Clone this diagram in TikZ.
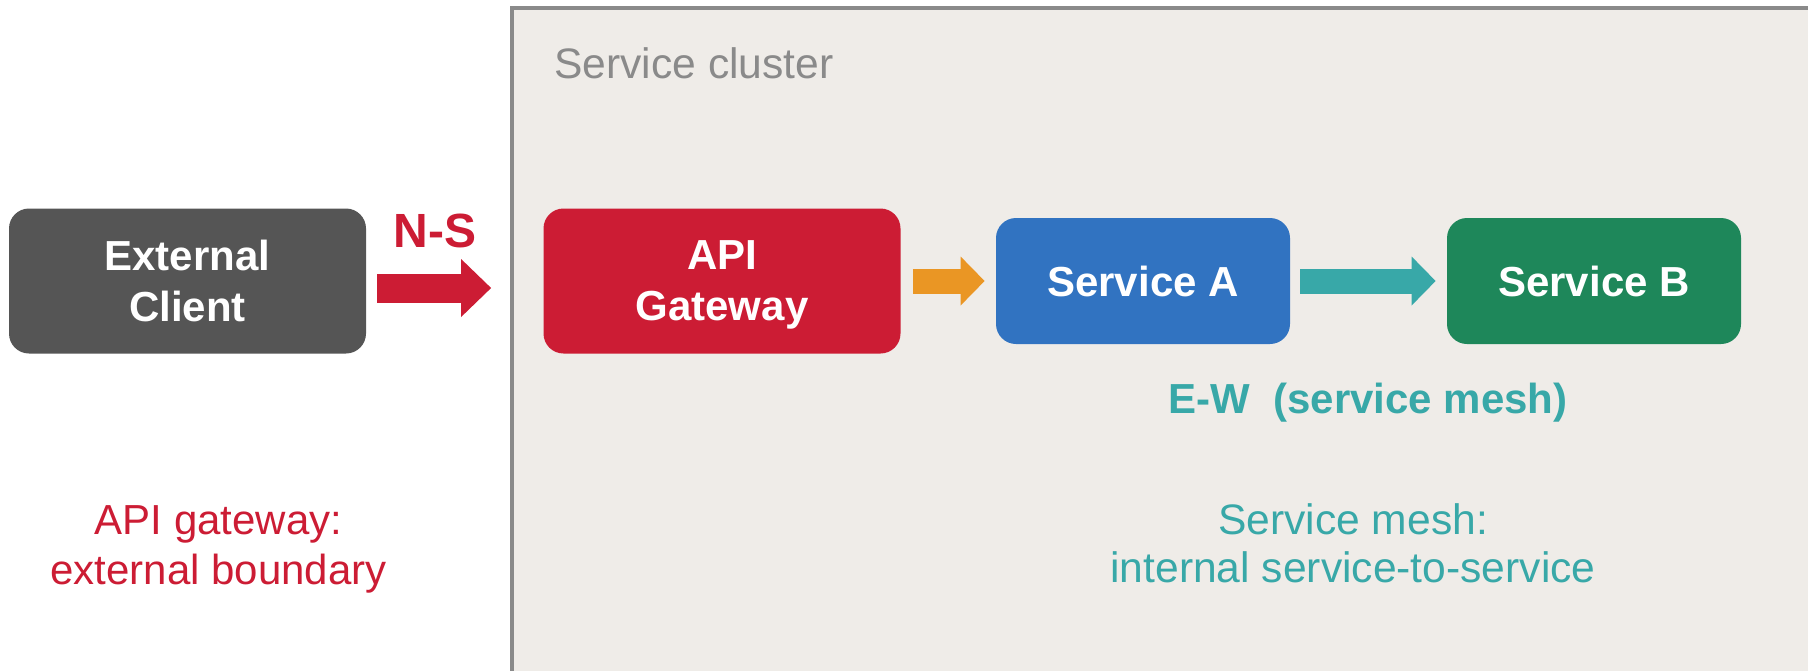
\documentclass[tikz,border=0pt]{standalone}
\usepackage{fontspec}
\setmainfont{Liberation Sans}
\usetikzlibrary{arrows.meta}

\definecolor{clientgray}{RGB}{85,85,85}
\definecolor{gatewayred}{RGB}{204,28,52}
\definecolor{svcblue}{RGB}{49,115,193}
\definecolor{svcgreen}{RGB}{30,135,90}
\definecolor{meshteal}{RGB}{56,168,168}
\definecolor{hoporange}{RGB}{234,150,36}
\definecolor{clusterfill}{RGB}{239,236,232}
\definecolor{clusterline}{RGB}{138,138,138}

\tikzset{
  box/.style={rounded corners=10pt, inner sep=0pt, text=white, align=center,
    text depth=0pt, font=\fontsize{21}{25.5}\selectfont\bfseries},
  bigbox/.style={box, minimum width=178.5pt, minimum height=72.5pt},
  svcbox/.style={box, minimum width=147pt, minimum height=63pt},
  fatarrow/.style={line width=12.5pt,
    -{Triangle[length=12pt, width=24.5pt, line width=0pt]}},
  note/.style={inner sep=0pt, align=center, font=\fontsize{21}{25}\selectfont}
}

\begin{document}
\begin{tikzpicture}[x=0.5pt,y=0.5pt,yscale=-1,xscale=1]

\useasboundingbox (0,0) rectangle (1808,671);

% cluster area
\fill [clusterfill] (512,8) rectangle (1808,671);
\draw [clusterline, line width=2pt] (1808,8) -- (512,8) -- (512,671);
\node [note, anchor=base west, text=clusterline, font=\fontsize{21.3}{25}\selectfont] (cluster) at (554,78) {Service cluster};

\node [bigbox, fill=clientgray] (client) at (187.5,281) {External\\Client};
\node [bigbox, fill=gatewayred] (gateway) at (722,281) {API\\Gateway};
\node [svcbox, fill=svcblue] (svca) at (1143,281) {Service A};
\node [svcbox, fill=svcgreen] (svcb) at (1594,281) {Service B};

\draw [fatarrow, gatewayred, line width=14.5pt,
  -{Triangle[length=15pt, width=29pt, line width=0pt]},
  shorten <=5.5pt, shorten >=26pt]
  ([yshift=3.5pt]client.east) -- ([yshift=3.5pt]gateway.west);
\draw [fatarrow, hoporange, shorten <=6pt, shorten >=5.5pt] (gateway) -- (svca);
\draw [fatarrow, meshteal, shorten <=5pt, shorten >=5.5pt] (svca) -- (svcb);

\node [note, anchor=base, text=gatewayred, font=\fontsize{24}{28}\selectfont\bfseries] (ns) at (435,247) {N-S};
\node [note, anchor=base, text=meshteal, font=\fontsize{21}{25}\selectfont\bfseries] (ew) at (1368,413) {E-W\ \ (service mesh)};

\node [note, text=gatewayred] (gwnote) at (218.5,549) {API gateway:\\external boundary};
\node [note, text=meshteal, font=\fontsize{21.3}{24}\selectfont] (meshnote) at (1353,543.5) {Service mesh:\\internal service-to-service};

\end{tikzpicture}
\end{document}
